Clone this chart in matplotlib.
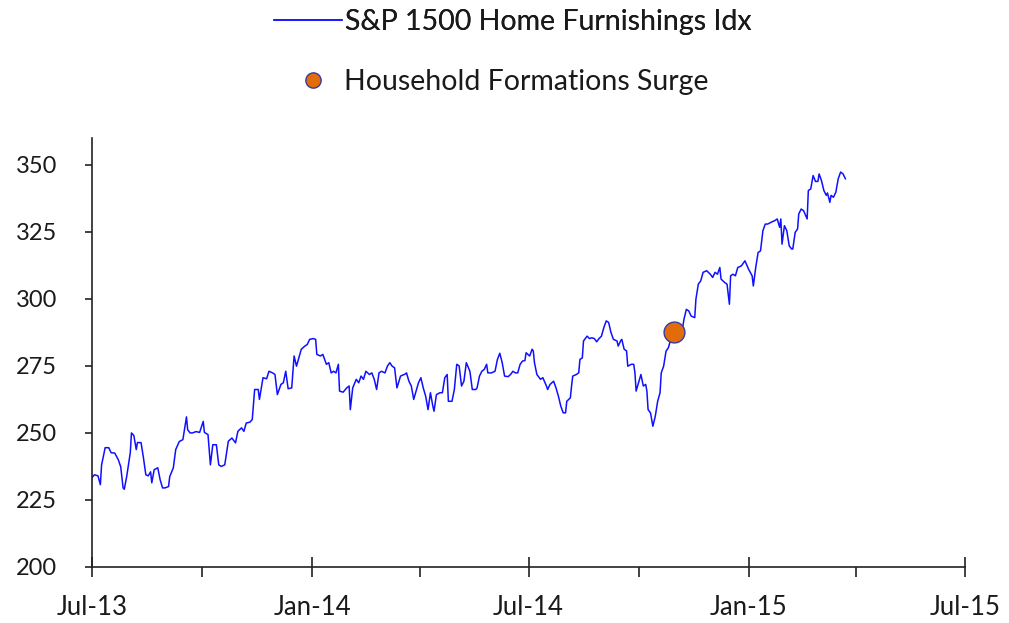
import numpy as np
import pandas as pd
import matplotlib
matplotlib.use('Agg')
import matplotlib.pyplot as plt
import matplotlib.dates as mdates
from matplotlib.lines import Line2D

# index values (days counted from 1 Jul 2013)
day_offset = [
    0, 2, 5, 7, 8, 11, 14, 16, 19, 22, 24, 26, 27, 29, 32, 33, 35, 37, 38, 41,
    43, 45, 47, 49, 50, 52, 55, 57, 59, 61, 64, 65, 68, 70, 73, 76, 79, 80, 82, 84,
    87, 90, 93, 94, 97, 99, 101, 104, 106, 108, 111, 114, 117, 120, 122, 125, 127, 129, 132, 134,
    136, 139, 140, 143, 146, 148, 151, 153, 155, 158, 160, 162, 164, 167, 169, 171, 175, 178,
    180, 182, 185, 187, 188, 191, 193, 196, 198, 200, 202, 204, 206, 207, 210, 213, 215, 216,
    218, 221, 223, 225, 227, 229, 232, 234, 236, 238, 240, 242, 245, 247, 249, 251, 253, 255,
    258, 262, 263, 265, 267, 269, 271, 273, 275, 277, 279, 281, 283, 285, 286, 288, 291, 293,
    295, 297, 298, 301, 303, 305, 307, 309, 311, 313, 316, 318, 321, 322, 324, 326, 328, 330,
    331, 334, 337, 339, 341, 343, 345, 348, 350, 352, 354, 356, 358, 360, 362, 363, 366, 368,
    369, 370, 372, 375, 377, 380, 381, 383, 386, 388, 390, 392, 394, 396, 397, 400, 401, 402,
    405, 407, 408, 410, 411, 414, 416, 418, 420, 422, 424, 426, 428, 430, 432, 434, 436, 439,
    440, 442, 443, 445, 447, 448, 451, 453, 454, 455, 457, 459, 461, 463, 464, 465, 467, 469,
    471, 473, 475, 476, 478, 480, 482, 484, 487, 490, 493, 495, 497, 499, 501, 504, 505, 507,
    509, 511, 514, 517, 519, 521, 523, 525, 526, 529, 531, 533, 534, 536, 538, 540, 543, 546,
    549, 552, 553, 555, 557, 559, 561, 563, 565, 568, 571, 573, 575, 576, 577, 579, 581, 583,
    585, 586, 588, 590, 591, 593, 595, 598, 599, 601, 603, 605, 607, 608, 610, 612, 614, 615,
    617, 618, 620, 622, 624, 626, 628, 630,
]
index_value = [
    233.3, 234.4, 234.0, 230.7, 238.0, 244.5, 244.5, 242.6, 242.5, 240.0, 237.4, 229.5, 229.0, 233.7, 242.6, 250.0, 249.0, 243.8, 246.4, 246.4,
    240.8, 234.4, 234.0, 235.5, 231.4, 236.3, 237.0, 232.5, 229.5, 229.5, 230.0, 233.7, 237.0, 243.8, 246.8, 247.5, 256.0, 251.2, 250.0, 250.0,
    250.5, 250.2, 254.3, 250.2, 249.4, 238.1, 245.6, 245.6, 238.1, 237.5, 238.1, 246.9, 248.1, 246.3, 250.6, 251.9, 250.6, 253.7, 254.0, 255.0,
    266.2, 266.2, 262.5, 270.6, 270.2, 273.0, 272.4, 271.8, 264.3, 268.1, 268.7, 273.0, 266.5, 266.8, 278.7, 274.9, 281.2, 282.4,
    283.0, 284.9, 285.2, 284.9, 279.3, 278.7, 279.3, 275.6, 276.2, 272.4, 273.0, 272.4, 275.6, 265.6, 265.2, 266.8, 267.5, 258.7,
    266.8, 270.0, 268.7, 271.2, 270.0, 273.0, 271.8, 272.4, 270.0, 266.2, 272.4, 273.0, 272.4, 274.9, 276.2, 274.9, 274.3, 266.8,
    271.2, 272.0, 272.4, 269.3, 267.5, 262.5, 265.6, 268.7, 270.6, 266.8, 263.7, 258.7, 265.0, 260.0, 258.1, 264.3, 265.0, 265.0,
    270.6, 271.8, 261.8, 261.8, 266.2, 275.6, 275.0, 267.5, 269.3, 276.2, 273.0, 266.2, 266.2, 266.8, 271.2, 273.0, 273.7, 275.6,
    272.4, 272.4, 273.0, 277.4, 279.7, 276.2, 271.2, 271.0, 271.8, 273.0, 272.4, 272.4, 275.6, 276.8, 277.0, 279.9, 278.7, 281.2,
    280.6, 276.2, 271.8, 270.0, 270.6, 267.5, 266.2, 268.1, 269.3, 266.8, 263.7, 260.0, 257.5, 257.5, 261.8, 263.1, 267.5, 271.2,
    271.8, 272.4, 277.4, 278.0, 284.3, 286.1, 285.2, 285.5, 285.2, 284.0, 285.2, 286.1, 289.3, 291.8, 291.2, 287.4, 284.9, 284.3,
    282.4, 284.3, 284.9, 281.2, 280.6, 274.9, 275.6, 275.6, 272.4, 265.6, 268.7, 271.8, 267.5, 268.1, 265.6, 258.7, 257.5, 252.5,
    256.2, 261.8, 265.0, 272.4, 274.9, 280.5, 281.8, 285.0, 287.5, 285.5, 286.8, 292.4, 296.1, 295.5, 293.6, 293.0, 299.9, 305.5,
    306.7, 309.9, 310.5, 309.2, 308.0, 309.9, 309.2, 311.7, 307.4, 306.1, 305.5, 298.0, 308.6, 309.2, 308.6, 311.7, 312.3, 314.2,
    311.1, 308.6, 304.8, 311.7, 317.3, 317.9, 325.4, 327.9, 327.9, 328.6, 329.2, 329.8, 326.7, 329.8, 320.4, 327.3, 325.4, 319.8,
    318.6, 318.6, 324.8, 326.1, 331.7, 333.5, 332.9, 329.8, 340.4, 341.0, 346.0, 343.8, 343.8, 346.6, 344.1, 340.4, 338.6, 339.5,
    336.0, 338.6, 337.9, 339.8, 344.8, 347.3, 346.6, 344.8,
]

# household formations surge point
surge_date = '2014-10-31'
surge_value = 287.5

line_label = 'S&P 1500 Home Furnishings Idx'
surge_label = 'Household Formations Surge'

start = pd.Timestamp('2013-07-01')
dates = start + pd.to_timedelta(day_offset, unit='D')

plt.rcParams['font.family'] = ['Lato', 'DejaVu Sans']
plt.rcParams['font.size'] = 18
text_col = '#1a1a1a'

fig = plt.figure(figsize=(10.09, 6.23), dpi=100)
ax = fig.add_axes([92 / 1009, 1 - 567 / 623, (965 - 92) / 1009, (567 - 138) / 623])

ax.plot(dates, index_value, color='#1010ff', lw=1.1)
ax.plot(pd.Timestamp(surge_date), surge_value, 'o', ms=15, mfc='#e36c0a',
        mec='#3a3aa0', mew=1.0, zorder=5)

ax.set_xlim(pd.Timestamp('2013-07-01'), pd.Timestamp('2015-07-01'))
ax.set_ylim(200, 360)
ax.set_yticks(np.arange(200, 351, 25))

ax.xaxis.set_major_locator(mdates.MonthLocator(bymonth=[1, 7]))
ax.xaxis.set_minor_locator(mdates.MonthLocator(bymonth=[4, 10]))
ax.xaxis.set_major_formatter(mdates.DateFormatter('%b-%y'))

for s in ['top', 'right']:
    ax.spines[s].set_visible(False)
for s in ['left', 'bottom']:
    ax.spines[s].set_color('#222222')
    ax.spines[s].set_linewidth(1.2)

ax.tick_params(axis='y', direction='out', length=5, width=1.2, color='#222222',
               pad=20, labelcolor=text_col, labelsize=17)
ax.tick_params(axis='x', which='major', direction='inout', length=15, width=1.2,
               color='#222222', pad=13, labelcolor=text_col, labelsize=18.5)
ax.tick_params(axis='x', which='minor', direction='out', length=7, width=1.2,
               color='#222222')

# legend rows are centred one under the other
h1 = Line2D([], [], color='#1010ff', lw=1.1)
h2 = Line2D([], [], ls='', marker='o', ms=11, mfc='#e36c0a', mec='#3a3aa0', mew=1.0)
leg1 = fig.legend([h1], [line_label], loc='center', bbox_to_anchor=(0.508, 1 - 22 / 623),
                  frameon=False, handlelength=2.4, handletextpad=0.1, labelcolor=text_col,
                  fontsize=20.5)
fig.add_artist(leg1)
fig.legend([h2], [surge_label], loc='center', bbox_to_anchor=(0.499, 1 - 82 / 623),
           frameon=False, handlelength=1.0, handletextpad=0.6, labelcolor=text_col,
           fontsize=20.5)

fig.savefig('out.png', dpi=100)
